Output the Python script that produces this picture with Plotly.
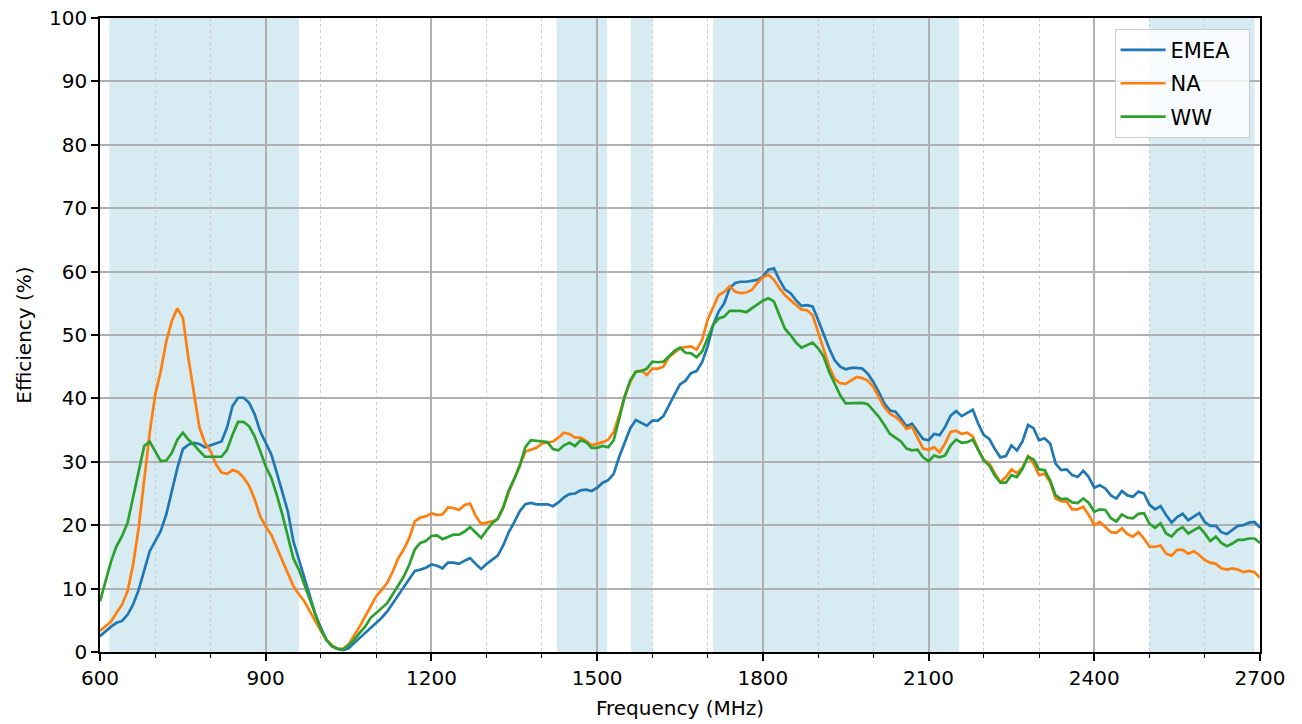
import plotly.graph_objects as go

freq_mhz = list(range(600, 2701, 10))

emea = [
    2.5, 3.3, 4.0, 4.6, 4.9, 5.9, 7.5, 9.8, 13.0, 15.9,
    17.5, 19.1, 21.7, 25.4, 29.0, 32.0, 32.7, 33.0, 32.8, 32.3,
    32.6, 32.8, 33.2, 35.4, 38.8, 40.1, 40.1, 39.3, 37.5, 34.8,
    33.0, 31.2, 28.3, 25.4, 22.2, 17.5, 14.6, 11.9, 8.8, 5.9,
    3.8, 1.9, 1.0, 0.5, 0.3, 0.6, 1.4, 2.2, 3.0, 3.8,
    4.6, 5.4, 6.4, 7.7, 9.1, 10.4, 11.7, 12.8, 13.0, 13.3,
    13.8, 13.6, 13.2, 14.1, 14.1, 13.9, 14.4, 14.8, 13.9, 13.1,
    13.9, 14.5, 15.2, 16.8, 18.9, 20.5, 22.2, 23.3, 23.5, 23.3,
    23.3, 23.3, 23.0, 23.6, 24.4, 24.9, 25.0, 25.5, 25.6, 25.4,
    25.9, 26.7, 27.1, 28.1, 30.8, 33.1, 35.3, 36.6, 36.2, 35.7,
    36.5, 36.5, 37.2, 39.0, 40.6, 42.2, 42.8, 44.0, 44.3, 45.7,
    48.2, 51.6, 53.7, 55.0, 57.4, 58.2, 58.4, 58.4, 58.6, 58.7,
    59.2, 60.3, 60.5, 58.7, 57.2, 56.6, 55.5, 54.6, 54.7, 54.5,
    52.4, 50.0, 47.9, 46.0, 45.0, 44.6, 44.8, 44.8, 44.7, 43.9,
    42.6, 41.0, 39.2, 38.1, 37.9, 36.8, 35.6, 36.0, 34.7, 33.6,
    33.4, 34.4, 34.2, 35.5, 37.3, 38.0, 37.2, 37.7, 38.2, 36.0,
    34.2, 33.6, 32.0, 30.7, 30.9, 32.6, 31.8, 33.2, 35.8, 35.3,
    33.4, 33.7, 32.9, 29.7, 28.7, 28.8, 27.9, 27.6, 28.6, 27.6,
    25.9, 26.3, 25.8, 24.7, 24.2, 25.4, 24.7, 24.5, 25.3, 25.0,
    23.2, 22.5, 23.0, 21.6, 20.4, 21.3, 21.8, 20.8, 21.3, 21.9,
    20.5, 19.9, 19.9, 18.9, 18.6, 19.3, 19.9, 20.0, 20.4, 20.5,
    19.6,
]

na = [
    3.3, 4.0, 4.8, 6.2, 7.5, 9.6, 13.8, 19.6, 27.5, 34.6,
    40.6, 44.3, 49.0, 52.2, 54.2, 52.7, 46.4, 40.6, 35.4, 33.0,
    31.7, 29.6, 28.3, 28.1, 28.7, 28.4, 27.5, 26.2, 24.1, 21.4,
    19.8, 18.5, 16.4, 14.3, 12.5, 10.4, 9.1, 8.0, 6.4, 4.8,
    3.3, 1.9, 1.0, 0.5, 0.5, 1.2, 2.5, 4.0, 5.6, 7.2,
    8.8, 9.8, 10.9, 12.7, 14.8, 16.2, 18.0, 20.6, 21.2, 21.4,
    21.9, 21.6, 21.7, 22.8, 22.7, 22.4, 23.2, 23.4, 21.5, 20.2,
    20.4, 20.6, 21.0, 22.8, 25.2, 27.3, 29.7, 31.6, 31.9, 32.2,
    32.9, 33.1, 33.2, 33.8, 34.6, 34.4, 33.8, 33.8, 33.3, 32.6,
    32.8, 33.1, 33.5, 34.7, 37.4, 40.3, 42.6, 44.2, 44.4, 43.7,
    44.7, 44.7, 45.0, 46.5, 47.2, 47.9, 48.1, 48.2, 47.7, 49.2,
    52.4, 54.5, 56.3, 56.8, 57.7, 56.8, 56.6, 56.7, 57.1, 58.2,
    59.1, 59.5, 58.7, 57.4, 56.3, 55.5, 54.7, 54.0, 53.9, 53.1,
    50.5, 47.6, 45.0, 43.1, 42.4, 42.3, 42.8, 43.4, 43.2, 42.8,
    41.8, 40.2, 38.6, 37.6, 37.1, 36.3, 35.2, 35.5, 33.9, 32.1,
    31.9, 32.3, 31.5, 32.9, 34.7, 34.9, 34.4, 34.6, 34.0, 31.9,
    30.3, 29.7, 28.2, 26.8, 27.6, 28.8, 28.2, 29.1, 30.9, 29.7,
    27.9, 28.1, 26.8, 24.2, 23.8, 23.7, 22.5, 22.5, 22.9, 21.6,
    20.0, 20.5, 19.7, 18.9, 18.8, 19.5, 18.6, 18.2, 18.9, 17.9,
    16.6, 16.6, 16.8, 15.5, 15.2, 16.1, 16.1, 15.5, 15.9, 15.3,
    14.5, 14.1, 13.9, 13.2, 13.0, 13.2, 13.0, 12.6, 12.8, 12.6,
    11.7,
]

ww = [
    8.0, 11.2, 14.3, 16.7, 18.3, 20.4, 24.3, 28.5, 32.5, 33.2,
    31.7, 30.1, 30.2, 31.4, 33.5, 34.6, 33.5, 32.7, 31.7, 30.8,
    30.8, 30.8, 30.8, 31.9, 34.3, 36.3, 36.3, 35.6, 34.0, 31.7,
    29.3, 27.5, 24.8, 21.7, 18.3, 14.8, 13.0, 10.6, 8.0, 5.6,
    3.5, 1.9, 0.9, 0.5, 0.4, 1.1, 1.9, 3.0, 4.0, 5.4,
    6.2, 6.9, 7.7, 9.1, 10.6, 11.9, 13.8, 16.2, 17.2, 17.5,
    18.3, 18.4, 17.8, 18.2, 18.5, 18.5, 19.0, 19.7, 18.8, 18.0,
    19.2, 20.3, 21.0, 22.8, 25.5, 27.3, 29.4, 32.3, 33.4, 33.3,
    33.1, 33.1, 32.0, 31.8, 32.6, 33.0, 32.5, 33.4, 33.1, 32.2,
    32.2, 32.5, 32.3, 33.4, 36.8, 40.3, 42.9, 44.2, 44.3, 44.7,
    45.8, 45.7, 45.8, 46.7, 47.5, 48.0, 47.2, 47.1, 46.5, 47.4,
    49.5, 51.6, 52.6, 52.9, 53.8, 53.8, 53.8, 53.6, 54.2, 54.7,
    55.4, 55.8, 55.3, 53.1, 51.0, 50.0, 48.8, 48.0, 48.4, 48.8,
    47.9, 46.6, 44.2, 42.3, 40.5, 39.2, 39.2, 39.3, 39.3, 39.1,
    38.1, 37.1, 35.8, 34.4, 33.8, 33.2, 32.1, 31.8, 31.9, 30.7,
    30.1, 31.0, 30.7, 31.0, 32.6, 33.5, 33.0, 33.1, 33.5, 31.8,
    30.2, 29.4, 27.8, 26.7, 26.7, 27.9, 27.6, 28.9, 30.8, 30.4,
    28.8, 28.7, 27.1, 24.7, 24.1, 24.2, 23.6, 23.5, 24.2, 23.5,
    22.1, 22.5, 22.4, 21.1, 20.6, 21.7, 21.2, 21.1, 21.8, 21.9,
    20.2, 19.6, 20.3, 18.7, 18.2, 19.2, 19.7, 18.7, 19.2, 19.7,
    18.7, 17.5, 18.2, 17.2, 16.7, 17.1, 17.7, 17.7, 17.9, 17.9,
    17.2,
]

series_names = ["EMEA", "NA", "WW"]
series_colors = ["#1f77b4", "#ff7f0e", "#2ca02c"]

band_start = [617, 1427, 1561, 1710, 2500]
band_end = [960, 1518, 1600, 2155, 2690]

x_ticks = [600, 900, 1200, 1500, 1800, 2100, 2400, 2700]
y_ticks = [0, 10, 20, 30, 40, 50, 60, 70, 80, 90, 100]

FONT = "DejaVu Sans"

fig = go.Figure()

for name, color, vals in zip(series_names, series_colors, [emea, na, ww]):
    fig.add_trace(go.Scatter(
        x=freq_mhz, y=vals, mode="lines", name=name + "  ", legendgroup=name,
        line=dict(color=color, width=2.7),
    ))

for s, e in zip(band_start, band_end):
    fig.add_shape(type="rect", xref="x", yref="y", x0=s, x1=e, y0=0, y1=100,
                  fillcolor="rgba(173,216,230,0.5)", line=dict(width=0),
                  layer="below")

axis_common = dict(
    showline=True, linecolor="black", linewidth=1.5, mirror=True,
    ticks="outside", ticklen=7, tickwidth=1.5, tickcolor="black",
    showgrid=True, gridcolor="#b0b0b0", gridwidth=1.6,
    zeroline=False, automargin=False,
    tickfont=dict(family=FONT, size=20, color="black"),
)

fig.update_xaxes(
    range=[600, 2700], tickvals=x_ticks,
    title=dict(text="Frequency (MHz)", font=dict(family=FONT, size=20, color="black"), standoff=12),
    minor=dict(dtick=100, tick0=600, ticks="outside", ticklen=4, tickwidth=1, tickcolor="black",
               showgrid=True, griddash="dot", gridcolor="#cccccc", gridwidth=1),
    **axis_common,
)
fig.update_yaxes(
    range=[0, 100], tickvals=y_ticks,
    title=dict(text="Efficiency (%)", font=dict(family=FONT, size=20, color="black"), standoff=12),
    **axis_common,
)

fig.update_layout(
    width=1302, height=724,
    margin=dict(l=100, r=42, t=18, b=72),
    plot_bgcolor="white", paper_bgcolor="white",
    font=dict(family=FONT, size=20, color="black"),
    legend=dict(x=0.991, y=0.983, xanchor="right", yanchor="top",
                bgcolor="rgba(255,255,255,0.8)", bordercolor="#cccccc", borderwidth=1,
                tracegroupgap=3, itemwidth=45,
                font=dict(family=FONT, size=21, color="black")),
    showlegend=True,
)

fig.write_html("out.html", config={"displayModeBar": False},
               post_script="document.body.style.margin='0';")
